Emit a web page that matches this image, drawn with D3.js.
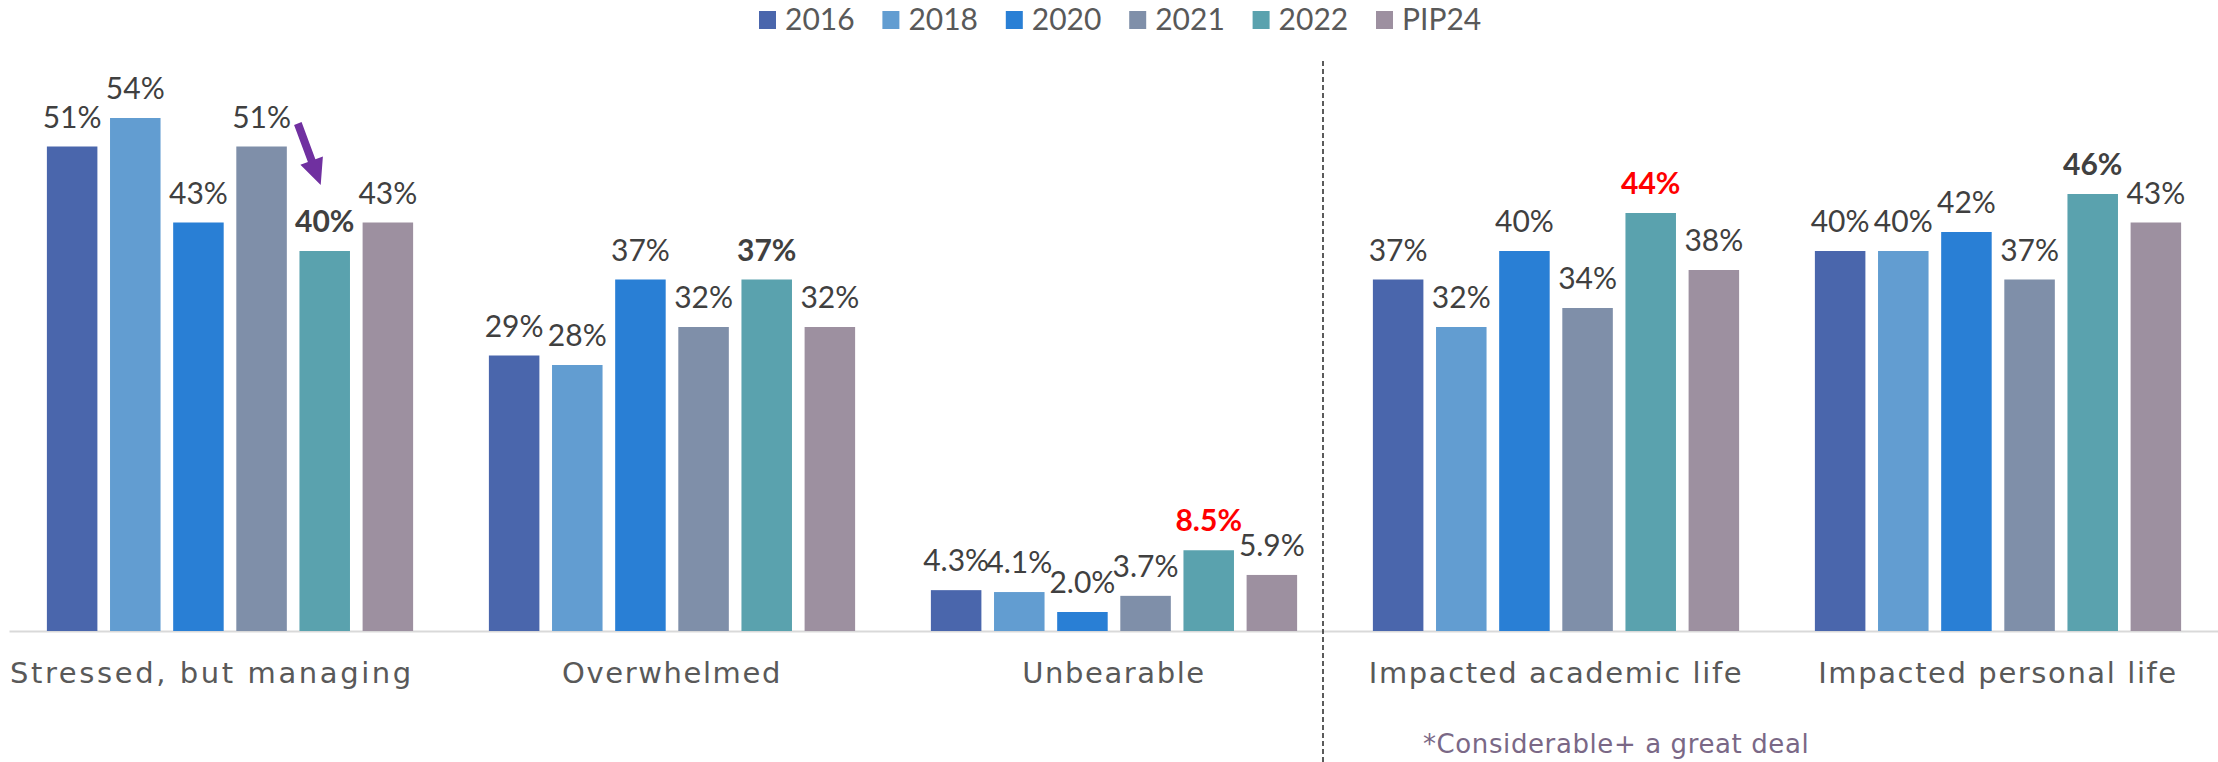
<!DOCTYPE html>
<html>
<head>
<meta charset="utf-8">
<script src="https://cdn.jsdelivr.net/npm/d3@7/dist/d3.min.js"></script>
<style>
  html, body { margin: 0; padding: 0; background: #ffffff; }
  svg { display: block; }
</style>
</head>
<body>
<script>
// ---------------- DATA ----------------
const categories = ["Stressed, but managing", "Overwhelmed", "Unbearable", "Impacted academic life", "Impacted personal life"];
const seriesNames = ["2016", "2018", "2020", "2021", "2022", "PIP24"];
const values2016 = [51, 29, 4.3, 37, 40];
const values2018 = [54, 28, 4.1, 32, 40];
const values2020 = [43, 37, 2.0, 40, 42];
const values2021 = [51, 32, 3.7, 34, 37];
const values2022 = [40, 37, 8.5, 44, 46];
const valuesPIP24 = [43, 32, 5.9, 38, 43];
const decimalCategories = ["Unbearable"];
const footnote = "*Considerable+ a great deal";

// ---------------- STYLE ----------------
const colors = ["#4A66AC", "#629DD1", "#297FD5", "#7F8FA9", "#5AA2AE", "#9D90A0"];
const emphasis2022 = ["dark", "dark", "red", "red", "dark"];

const W = 2218, H = 762;
const seriesValues = [values2016, values2018, values2020, values2021, values2022, valuesPIP24];

const svg = d3.select("body").append("svg").attr("width", W).attr("height", H);

const x0 = d3.scaleBand().domain(categories).range([9, 2219]).padding(0);
const x1 = d3.scaleBand().domain(seriesNames).range([0, x0.bandwidth()]).paddingInner(0.2).paddingOuter(0.6);
const y = d3.scaleLinear().domain([0, 60]).range([631, 61]);
const color = d3.scaleOrdinal().domain(seriesNames).range(colors);

// baseline axis
const xAxis = d3.axisBottom(x0).tickSize(0).tickFormat("");
const axisG = svg.append("g").attr("transform", `translate(0,${y(0)})`).call(xAxis);
axisG.select(".domain").attr("stroke", "#D9D9D9").attr("stroke-width", 2);

// flatten
const data = [];
categories.forEach((c, ci) => {
  seriesNames.forEach((s, si) => {
    data.push({ cat: c, ci, series: s, si, value: seriesValues[si][ci] });
  });
});

// bars
svg.append("g").selectAll("rect").data(data).join("rect")
  .attr("x", d => x0(d.cat) + x1(d.series))
  .attr("y", d => y(d.value))
  .attr("width", x1.bandwidth())
  .attr("height", d => y(0) - y(d.value))
  .attr("fill", d => color(d.series));

// labels
const fmt = d => (decimalCategories.includes(d.cat) ? d.value.toFixed(1) : Math.round(d.value)) + "%";
svg.append("g").selectAll("text").data(data).join("text")
  .attr("x", d => x0(d.cat) + x1(d.series) + x1.bandwidth() / 2)
  .attr("y", d => y(d.value) - 19)
  .attr("text-anchor", "middle")
  .attr("font-family", "Lato, sans-serif")
  .attr("font-size", 30)
  .attr("font-weight", d => d.series === "2022" ? "bold" : "normal")
  .attr("fill", d => (d.series === "2022" && emphasis2022[d.ci] === "red") ? "#FF0000" : "#404040")
  .text(fmt);

// category labels (first one overflows its band and is left-aligned to the plot edge)
const catG = svg.append("g");
catG.selectAll("text").data(categories).join("text")
  .attr("x", (d, i) => i === 0 ? x0.range()[0] + 1 : x0(d) + x0.bandwidth() / 2)
  .attr("y", 683)
  .attr("text-anchor", (d, i) => i === 0 ? "start" : "middle")
  .attr("font-family", "'DejaVu Sans', sans-serif")
  .attr("font-size", 29)
  .attr("letter-spacing", (d, i) => i === 0 ? 2.6 : 1.6)
  .attr("fill", "#595959")
  .text(d => d);

// dashed divider between third and fourth categories
const divX = (x0(categories[2]) + x0.bandwidth() + x0(categories[3])) / 2 - 12;
svg.append("line")
  .attr("x1", divX).attr("x2", divX)
  .attr("y1", y(60)).attr("y2", H)
  .attr("stroke", "#262626").attr("stroke-width", 1.5)
  .attr("stroke-dasharray", "5,3");

// legend
const legStep = 123.4;
const legStart = 759;
const leg = svg.append("g").selectAll("g").data(seriesNames).join("g")
  .attr("transform", (d, i) => `translate(${legStart + i * legStep},0)`);
leg.append("rect").attr("x", 0).attr("y", 11).attr("width", 17).attr("height", 18).attr("fill", d => color(d));
leg.append("text").attr("x", 26).attr("y", 30)
  .attr("font-family", "Lato, sans-serif").attr("font-size", 30).attr("fill", "#595959")
  .text(d => d);

// footnote
svg.append("text").attr("x", 1423).attr("y", 753)
  .attr("font-family", "'DejaVu Sans', sans-serif").attr("font-size", 26).attr("letter-spacing", 0.6)
  .attr("fill", "#7A6886").text(footnote);

// arrow annotation pointing from 2021 to 2022 in first category
const c0 = categories[0];
const bx21 = x0(c0) + x1("2021") + x1.bandwidth();
const bx22 = x0(c0) + x1("2022") + x1.bandwidth() / 2;
const tail = [bx21 + 11, y(values2021[0]) - 23];
const tip = [bx22 - 4, y(values2022[0]) - 66];
const dx = tip[0] - tail[0], dy = tip[1] - tail[1];
const L = Math.hypot(dx, dy), ux = dx / L, uy = dy / L, px = -uy, py = ux;
const headLen = 26, headHalf = 12, shaftHalf = 4;
const bx = tip[0] - ux * headLen, by = tip[1] - uy * headLen;
const pts = [
  [tail[0] + px * shaftHalf, tail[1] + py * shaftHalf],
  [bx + px * shaftHalf, by + py * shaftHalf],
  [bx + px * headHalf, by + py * headHalf],
  tip,
  [bx - px * headHalf, by - py * headHalf],
  [bx - px * shaftHalf, by - py * shaftHalf],
  [tail[0] - px * shaftHalf, tail[1] - py * shaftHalf]
];
svg.append("path").attr("d", d3.line()(pts) + "Z").attr("fill", "#7030A0");
</script>
</body>
</html>
